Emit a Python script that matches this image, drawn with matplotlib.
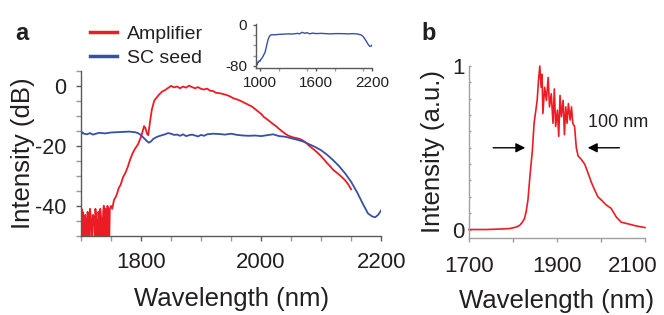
#!/usr/bin/env python3
"""Amplifier vs SC seed spectra (a) and linear amplifier spectrum (b)."""

import matplotlib

matplotlib.use("Agg")
import matplotlib.pyplot as plt  # noqa: E402
import matplotlib.transforms as mtransforms  # noqa: E402
from matplotlib.ticker import MultipleLocator  # noqa: E402

plt.rcParams["font.family"] = ["Liberation Sans", "DejaVu Sans"]
plt.rcParams["axes.unicode_minus"] = False

RED = "#ec1c24"
BLUE = "#3551a4"
TEXT = "#231f20"

# panel a, amplifier output (nm, dB)
amp_wl = [1700, 1701, 1702, 1703, 1704, 1706, 1707, 1708, 1710, 1711, 1713, 1714,
          1715, 1717, 1718, 1720, 1722, 1723, 1724, 1726, 1727, 1729, 1730, 1731,
          1732, 1734, 1735, 1737, 1738, 1739, 1741, 1742, 1743, 1744, 1746, 1747,
          1748, 1750, 1752, 1755, 1758, 1760, 1763, 1766, 1770, 1774, 1778, 1782,
          1786, 1790, 1795, 1798, 1800, 1803, 1805, 1807, 1810, 1812, 1815, 1818,
          1822, 1826, 1830, 1835, 1840, 1845, 1850, 1855, 1860, 1865, 1870, 1875,
          1880, 1885, 1890, 1895, 1900, 1905, 1910, 1915, 1920, 1925, 1930, 1935,
          1940, 1945, 1950, 1955, 1960, 1965, 1970, 1975, 1980, 1985, 1990, 1995,
          2000, 2005, 2010, 2015, 2020, 2025, 2030, 2035, 2040, 2045, 2050, 2055,
          2060, 2065, 2070, 2075, 2080, 2085, 2090, 2095, 2100, 2105, 2110, 2115,
          2120, 2125, 2130, 2135, 2140, 2145, 2150]
amp_db = [-52, -41, -52, -42, -46, -52, -43, -45, -52, -42, -47, -52,
          -41, -45, -52, -43, -44, -52, -41, -46, -52, -42, -44, -52,
          -41, -45, -52, -42, -40, -52, -41, -46, -52, -40, -42, -52,
          -41, -40, -41, -38, -37, -36, -34, -33, -30.5, -29, -27, -24.5,
          -22.5, -21, -19.5, -18, -17, -15, -13.5, -14, -16, -16.5, -12, -8,
          -5, -4, -3, -2, -1.5, -0.8, -0.1, -0.6, -0.3, -0.9, -0.3, -0.7,
          0, -0.5, -0.9, -0.5, -1.1, -1.3, -1.0, -1.7, -1.8, -2.4, -2.5, -2.7,
          -3.0, -3.3, -3.8, -4.3, -4.6, -5.0, -5.5, -6.0, -6.5, -7.0, -7.8, -8.6,
          -9.4, -10.5, -11.2, -12.0, -12.8, -13.5, -14.4, -15.2, -16.0, -16.6, -17.0, -17.3,
          -17.5, -17.8, -18.3, -19.0, -20.0, -20.8, -21.6, -22.5, -23.5, -24.6, -25.8, -26.8,
          -28.0, -28.8, -29.6, -30.5, -31.5, -32.8, -34.5]

# panel a, supercontinuum seed (nm, dB)
seed_wl = [1700, 1702, 1705, 1710, 1715, 1720, 1725, 1730, 1740, 1750, 1760, 1770,
           1780, 1790, 1795, 1800, 1805, 1810, 1813, 1817, 1820, 1825, 1830, 1840,
           1845, 1850, 1855, 1860, 1865, 1870, 1875, 1880, 1885, 1890, 1895, 1900,
           1905, 1910, 1920, 1930, 1940, 1950, 1960, 1970, 1980, 1990, 2000, 2010,
           2020, 2025, 2030, 2040, 2050, 2060, 2070, 2080, 2090, 2100, 2110, 2120,
           2130, 2140, 2150, 2160, 2170, 2178, 2185, 2190, 2195, 2200]
seed_db = [-16.5, -15.5, -16, -16.2, -15.8, -16.3, -16, -15.7, -15.9, -15.6, -15.5, -15.4,
           -15.3, -15.5, -15.8, -16.5, -17.5, -18.5, -19, -18.5, -17.8, -17.2, -16.8, -16.2,
           -15.8, -16, -16.4, -16.3, -16.7, -16.2, -16.8, -16.5, -16.3, -16.6, -16.9, -16.4,
           -16.7, -16.2, -16.0, -16.1, -16.3, -16.0, -16.4, -16.6, -16.7, -16.6, -16.8, -16.5,
           -16.2, -16.5, -16.8, -17.0, -17.5, -18.0, -18.6, -19.5, -20.4, -21.5, -23.0, -24.8,
           -26.8, -29.2, -32.0, -35.5, -39.5, -42.5, -43.5, -43.8, -43.0, -41.5]

# inset, full seed spectrum (nm, dB)
full_wl = [955, 960, 965, 970, 980, 990, 1000, 1010, 1020, 1030, 1040, 1050,
           1060, 1070, 1080, 1090, 1100, 1110, 1130, 1150, 1200, 1250, 1300, 1350,
           1400, 1420, 1450, 1480, 1500, 1530, 1560, 1600, 1650, 1700, 1750, 1800,
           1850, 1900, 1950, 2000, 2050, 2080, 2100, 2120, 2140, 2160, 2175, 2190, 2200]
full_db = [-80, -76, -79, -73, -74, -70, -71, -67, -65, -62, -58, -55,
           -48, -40, -32, -26, -22, -20, -19, -19.5, -18.5, -18, -17.5, -17.8,
           -16.5, -17.5, -14.5, -16.5, -15, -17.5, -16, -17, -16.5, -17, -17.5, -17,
           -17, -17.2, -17.5, -17, -18, -19.5, -22, -27, -33, -39, -42, -41.5, -39]

# panel b, linear amplifier spectrum (nm, a.u.)
lin_wl = [1700, 1720, 1740, 1760, 1780, 1792, 1800, 1808, 1815, 1820, 1826, 1830,
          1834, 1839, 1844, 1848, 1852, 1855, 1858, 1861, 1864, 1866, 1868, 1872,
          1876, 1880, 1883, 1887, 1891, 1894, 1897, 1901, 1904, 1907, 1910, 1914,
          1917, 1920, 1923, 1926, 1930, 1933, 1936, 1940, 1944, 1948, 1955, 1963,
          1970, 1978, 1986, 1993, 2001, 2012, 2023, 2035, 2046, 2061, 2080, 2100]
lin_int = [0.0, 0.0, 0.0, 0.002, 0.004, 0.006, 0.01, 0.016, 0.025, 0.04, 0.065, 0.11,
           0.18, 0.34, 0.48, 0.65, 0.73, 0.79, 0.91, 1.0, 0.87, 0.95, 0.71, 0.87,
           0.79, 0.93, 0.75, 0.83, 0.65, 0.86, 0.63, 0.73, 0.57, 0.82, 0.69, 0.79,
           0.58, 0.75, 0.65, 0.77, 0.67, 0.75, 0.65, 0.63, 0.5, 0.45, 0.43, 0.40,
           0.35, 0.29, 0.24, 0.20, 0.18, 0.15, 0.13, 0.076, 0.045, 0.035, 0.022, 0.012]

TICK_SIZE = 16
LABEL_SIZE = 18.5


def style_axes(ax, spine="#5a5a5a", tick_size=TICK_SIZE, xlen=3.5, ylen=3.5,
               ydir="out", xpad=7.5, ypad=7.5):
    for side in ("top", "right"):
        ax.spines[side].set_visible(False)
    for side in ("left", "bottom"):
        ax.spines[side].set_color(spine)
        ax.spines[side].set_linewidth(1.0)
    for which, col in (("major", spine), ("minor", "#9a9a9a")):
        ax.tick_params(axis="x", which=which, direction="out", length=xlen,
                       width=1.0, color=col, labelsize=tick_size,
                       labelcolor=TEXT, pad=xpad)
        ax.tick_params(axis="y", which=which, direction=ydir, length=ylen,
                       width=1.0, color=col, labelsize=tick_size,
                       labelcolor=TEXT, pad=ypad)


fig = plt.figure(figsize=(6.64, 3.15), dpi=100)

# ---- panel a ----
ax_a = fig.add_axes([0.122, 0.251, 0.452, 0.525])
line_amp, = ax_a.plot(amp_wl, amp_db, color=RED, lw=1.3, label="Amplifier")
line_seed, = ax_a.plot(seed_wl, seed_db, color=BLUE, lw=1.3, label="SC seed")
ax_a.set_xlim(1700, 2200)
ax_a.set_ylim(-50, 5)
ax_a.set_xticks([1800, 2000, 2200])
ax_a.xaxis.set_minor_locator(MultipleLocator(50))
ax_a.set_yticks([0, -20, -40])
ax_a.yaxis.set_minor_locator(MultipleLocator(5))
style_axes(ax_a, xpad=8, ypad=7)
ax_a.tick_params(axis="y", labelsize=15.5)
ax_a.set_xlabel("Wavelength (nm)", fontsize=LABEL_SIZE, color=TEXT, labelpad=10)
ax_a.set_ylabel("Intensity (dB)", fontsize=LABEL_SIZE, color=TEXT, labelpad=0)

leg = ax_a.legend(handles=[line_amp, line_seed], loc="upper left",
                  bbox_to_anchor=(0.121, 0.95), bbox_transform=fig.transFigure,
                  frameon=False, fontsize=14, handlelength=1.4,
                  handletextpad=0.5, labelspacing=0.3, borderpad=0)
for text in leg.get_texts():
    text.set_color(TEXT)
for handle in leg.get_lines():
    handle.set_linewidth(2.5)

# inset with the full seed spectrum
ax_in = fig.add_axes([0.3855, 0.785, 0.175, 0.139])
ax_in.plot(full_wl, full_db, color=BLUE, lw=1.0)
ax_in.set_xlim(955, 2200)
ax_in.set_ylim(-84, 2)
ax_in.set_xticks([1000, 1600, 2200])
ax_in.xaxis.set_minor_locator(MultipleLocator(300))
ax_in.set_yticks([0, -80])
ax_in.yaxis.set_minor_locator(MultipleLocator(20))
style_axes(ax_in, tick_size=11, xlen=2.5, ylen=2.5, xpad=3.5, ypad=4)

# ---- panel b ----
ax_b = fig.add_axes([0.7063, 0.2454, 0.265, 0.545])
ax_b.plot(lin_wl, lin_int, color=RED, lw=1.2, clip_on=False)
ax_b.set_xlim(1700, 2100)
ax_b.set_ylim(-0.05, 1.0)
ax_b.set_xticks([1700, 1900, 2100])
ax_b.xaxis.set_minor_locator(MultipleLocator(100))
ax_b.set_yticks([0, 1])
ax_b.yaxis.set_minor_locator(MultipleLocator(0.1))
style_axes(ax_b, spine="#a0a0a0", xlen=3, ylen=1.5, ydir="in", xpad=10.5, ypad=3)
ax_b.set_xlabel("Wavelength (nm)", fontsize=LABEL_SIZE, color=TEXT, labelpad=8)
ax_b.set_ylabel("Intensity (a.u.)", fontsize=LABEL_SIZE, color=TEXT, labelpad=5)
# the last wavelength label sits a little left of its tick, inside the figure
last = ax_b.get_xticklabels()[-1]
last.set_transform(last.get_transform()
                   + mtransforms.ScaledTranslation(-12 / 100, 0, fig.dpi_scale_trans))

arrow = dict(arrowstyle="-|>", color="black", lw=1.0,
             mutation_scale=14, shrinkA=0, shrinkB=0)
ax_b.annotate("", xy=(1828, 0.5), xytext=(1755, 0.5), arrowprops=arrow)
ax_b.annotate("", xy=(1970, 0.5), xytext=(2042, 0.5), arrowprops=arrow)
ax_b.text(1971, 0.655, "100 nm", fontsize=13, color=TEXT, va="center", ha="left")

# panel letters
fig.text(0.033, 0.895, "a", fontsize=17, fontweight="bold", color=TEXT,
         ha="center", va="center")
fig.text(0.645, 0.895, "b", fontsize=17, fontweight="bold", color=TEXT,
         ha="center", va="center")

fig.savefig("out.png", dpi=100)
plt.close(fig)
